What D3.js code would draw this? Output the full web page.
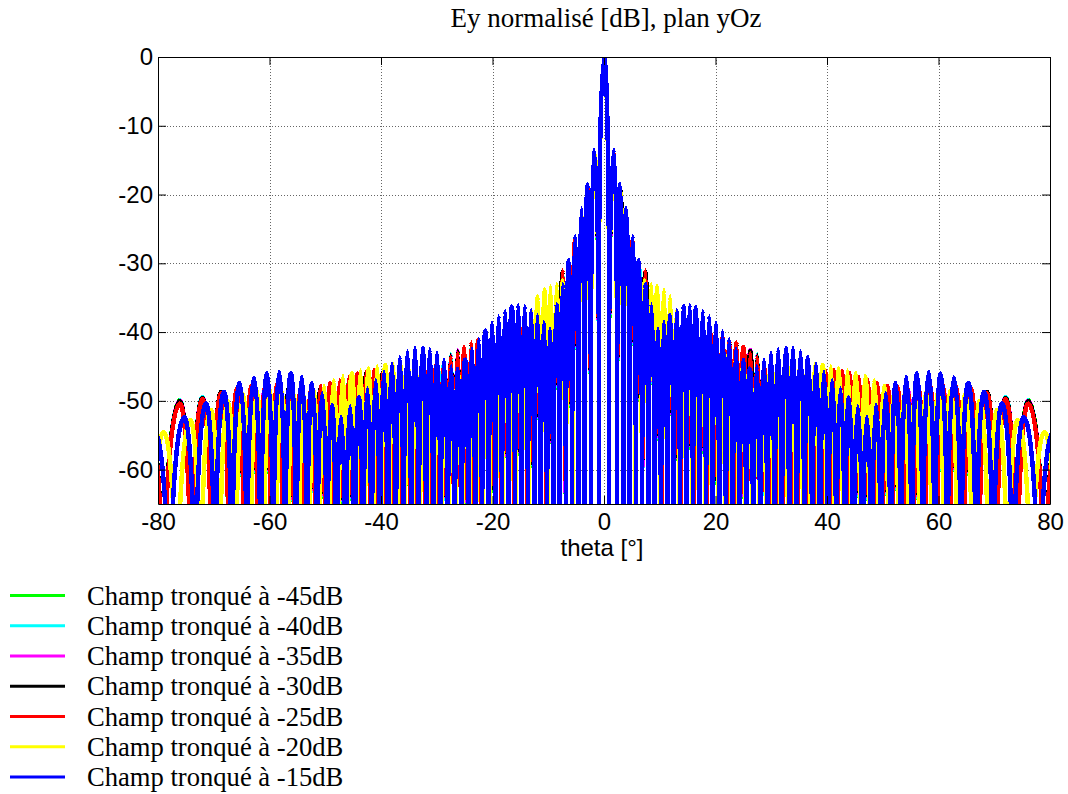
<!DOCTYPE html>
<html lang="fr">
<head>
<meta charset="UTF-8">
<title>Ey normalisé [dB], plan yOz</title>
<script src="https://cdn.jsdelivr.net/npm/d3@7"></script>
<style>
  body { margin: 0; background: #fff; }
</style>
</head>
<body>
<script>
// ---- data (pattern is symmetric in theta, values for theta >= 0) ----
// lobe peak angles [deg]
var thetaBlue = [0, 1.79, 2.91, 4.03, 5.15, 6.27, 7.39, 8.52, 9.66, 10.79, 11.93, 13.07, 14.22, 15.38, 16.54, 17.71,
    18.89, 20.07, 21.27, 22.47, 23.69, 24.91, 26.15, 27.40, 28.67, 29.95, 31.25, 32.56, 33.90, 35.26, 36.63, 38.04,
    39.47, 40.93, 42.43, 43.96, 45.54, 47.16, 48.83, 50.55, 52.34, 54.21, 56.17, 58.23, 60.42, 62.77, 65.32, 68.16,
    71.39, 75.29, 80.60];
var thetaYellow = [0, 1.78, 2.89, 4.01, 5.12, 6.24, 7.36, 8.48, 9.60, 10.73, 11.87, 13.01, 14.15, 15.30, 16.45, 17.62,
    18.79, 19.97, 21.15, 22.35, 23.56, 24.78, 26.01, 27.25, 28.51, 29.78, 31.07, 32.37, 33.70, 35.05, 36.42, 37.81,
    39.23, 40.68, 42.17, 43.68, 45.23, 46.83, 48.48, 50.20, 51.96, 53.81, 55.73, 57.76, 59.91, 62.21, 64.69, 67.42,
    70.54, 74.20, 79.00];
// shared by the -25 ... -45 dB curves
var thetaTrunc = [0, 1.79, 2.92, 4.04, 5.17, 6.29, 7.42, 8.55, 9.69, 10.83, 11.97, 13.12, 14.28, 15.44, 16.60, 17.78,
    18.96, 20.15, 21.35, 22.55, 23.78, 25.01, 26.25, 27.50, 28.78, 30.07, 31.37, 32.69, 34.04, 35.40, 36.78, 38.20,
    39.64, 41.11, 42.62, 44.16, 45.75, 47.38, 49.07, 50.81, 52.61, 54.50, 56.48, 58.57, 60.79, 63.18, 65.77, 68.68,
    72.01, 76.09, 81.99];

// lobe peak levels [dB]
var peakBlue = [0, -13.5, -18.5, -22.0, -26.0, -29.5, -33.0, -36.0, -39.5, -38.5, -37.5, -36.8, -36.2, -36.0, -36.3, -36.9,
    -37.7, -38.6, -39.8, -41.0, -42.4, -44.0, -45.3, -45.0, -44.0, -43.0, -42.5, -42.3, -42.3, -42.8, -43.6, -44.6,
    -45.8, -47.0, -48.2, -49.5, -50.8, -52.3, -50.6, -48.9, -47.4, -46.5, -46.0, -45.8, -46.0, -46.6, -47.4, -48.7,
    -50.4, -52.4, -54.5];
var peakYellow = [0, -14.0, -19.5, -23.0, -27.0, -30.5, -32.5, -33.0, -33.3, -33.8, -34.8, -36.8, -38.5, -39.5, -40.2, -40.8,
    -41.5, -42.0, -42.5, -43.2, -44.0, -45.0, -46.0, -46.5, -46.3, -46.0, -45.5, -45.0, -44.8, -44.6, -44.5, -44.6,
    -44.8, -45.0, -45.3, -45.6, -46.0, -46.4, -47.0, -47.8, -48.5, -49.0, -49.0, -48.5, -48.3, -48.5, -49.0, -50.0,
    -51.3, -52.8, -54.5];
var peakRed = [0, -13.8, -19.0, -22.8, -26.5, -30.0, -31.0, -34.5, -37.5, -38.5, -38.5, -38.5, -38.6, -38.8, -39.0, -39.3,
    -39.6, -40.0, -40.5, -41.2, -41.5, -42.2, -43.0, -43.6, -44.2, -44.8, -45.3, -45.8, -46.0, -46.2, -46.3, -46.0,
    -45.6, -45.5, -45.7, -46.0, -46.5, -47.0, -47.4, -47.8, -48.0, -48.0, -47.8, -47.6, -47.6, -47.8, -48.2, -48.9,
    -49.8, -50.4, -51.5];
var peakBlack = [0, -14.1, -19.3, -23.1, -26.8, -30.3, -31.3, -34.8, -37.8, -38.8, -38.8, -38.8, -38.9, -39.1, -39.3, -39.6,
    -39.9, -40.3, -40.8, -41.5, -41.8, -42.4, -42.75, -43.4, -44.4, -45.1, -45.6, -46.1, -46.3, -46.5, -46.6, -46.3,
    -45.9, -45.8, -46.0, -46.3, -46.8, -47.3, -47.7, -48.1, -48.3, -48.3, -48.1, -47.9, -47.9, -48.1, -48.5, -48.7,
    -49.6, -50.05, -51.2];
var peakMagenta = [0, -14.3, -19.5, -23.3, -27.0, -30.5, -31.5, -35.0, -38.0, -39.0, -39.0, -39.0, -39.1, -39.3, -39.5, -39.8,
    -40.1, -40.5, -41.0, -41.7, -42.0, -42.6, -42.6, -43.35, -44.6, -45.3, -45.8, -46.3, -46.5, -46.7, -46.8, -46.5,
    -46.1, -46.0, -46.2, -46.5, -47.0, -47.5, -47.9, -48.3, -48.5, -48.5, -48.3, -48.1, -48.1, -48.3, -48.7, -48.85,
    -49.55, -50.0, -51.3];
var peakCyan = [0, -14.5, -19.7, -23.5, -27.2, -30.7, -31.7, -35.2, -38.2, -39.2, -39.2, -39.2, -39.3, -39.5, -39.7, -40.0,
    -40.3, -40.7, -41.2, -41.9, -42.2, -42.8, -42.8, -43.2, -44.8, -45.5, -46.0, -46.5, -46.7, -46.9, -47.0, -46.7,
    -46.3, -46.2, -46.4, -46.7, -47.2, -47.7, -48.1, -48.5, -48.7, -48.7, -48.5, -48.3, -48.3, -48.5, -48.9, -48.9,
    -49.45, -49.95, -51.4];
var peakGreen = [0, -14.7, -19.9, -23.7, -27.4, -30.9, -31.9, -35.4, -38.4, -39.4, -39.4, -39.4, -39.5, -39.7, -39.9, -40.2,
    -40.5, -40.9, -41.4, -42.1, -42.4, -43.0, -42.9, -43.3, -45.0, -45.7, -46.2, -46.7, -46.9, -47.1, -47.2, -46.9,
    -46.5, -46.4, -46.6, -46.9, -47.4, -47.9, -48.3, -48.7, -48.9, -48.9, -48.7, -48.5, -48.5, -48.7, -49.1, -48.95,
    -49.5, -49.9, -51.5];

var seriesNames = ["Champ tronqué à -45dB", "Champ tronqué à -40dB", "Champ tronqué à -35dB",
    "Champ tronqué à -30dB", "Champ tronqué à -25dB", "Champ tronqué à -20dB", "Champ tronqué à -15dB"];
var seriesColors = ["#00ff00", "#00ffff", "#ff00ff", "#000000", "#ff0000", "#ffff00", "#0000ff"];
var seriesTheta = [thetaTrunc, thetaTrunc, thetaTrunc, thetaTrunc, thetaTrunc, thetaYellow, thetaBlue];
var seriesPeak = [peakGreen, peakCyan, peakMagenta, peakBlack, peakRed, peakYellow, peakBlue];

var xTicks = [-80, -60, -40, -20, 0, 20, 40, 60, 80];
var yTicks = [0, -10, -20, -30, -40, -50, -60];

// ---- drawing ----
var W = 1068, H = 794;
var axLeft = 158, axRight = 1050, axTop = 57, axBottom = 504;
var lobeDepth = 35;   // dB height of each lobe arch
var floorDb = -95;

var svg = d3.select("body").append("svg").attr("width", W).attr("height", H);

var x = d3.scaleLinear().domain([-80, 80]).range([axLeft, axRight]);
var y = d3.scaleLinear().domain([-65, 0]).range([axBottom, axTop]);

svg.append("clipPath").attr("id", "clip")
    .append("rect").attr("x", axLeft).attr("y", axTop).attr("width", axRight - axLeft).attr("height", axBottom - axTop);

// grid
var grid = svg.append("g").attr("stroke", "#666").attr("stroke-width", 1).attr("stroke-dasharray", "1,2");
grid.selectAll("line.gx").data(xTicks).enter().append("line")
    .attr("x1", function(d) { return Math.round(x(d)) + 0.5; })
    .attr("x2", function(d) { return Math.round(x(d)) + 0.5; })
    .attr("y1", axTop).attr("y2", axBottom);
grid.selectAll("line.gy").data(yTicks).enter().append("line")
    .attr("y1", function(d) { return Math.round(y(d)) + 0.5; })
    .attr("y2", function(d) { return Math.round(y(d)) + 0.5; })
    .attr("x1", axLeft).attr("x2", axRight);

// one arch per lobe, dropping to the nulls halfway between peaks
function lobePath(thetas, peaks) {
    var pts = [];
    for (var i = thetas.length - 1; i > 0; i--) pts.push([-thetas[i], peaks[i]]);
    for (var j = 0; j < thetas.length; j++) pts.push([thetas[j], peaks[j]]);
    var n = pts.length, yf = y(floorDb), p = "";
    for (var k = 0; k < n; k++) {
        var xc = x(pts[k][0]), yc = y(pts[k][1]);
        var xl = k > 0 ? (x(pts[k - 1][0]) + xc) / 2 : xc - (x(pts[k + 1][0]) - xc) / 2;
        var xr = k < n - 1 ? (xc + x(pts[k + 1][0])) / 2 : xc + (xc - x(pts[k - 1][0])) / 2;
        var yb = y(pts[k][1] - lobeDepth);
        if (k === 0) p += "M" + xl + "," + yf;
        p += "L" + xl + "," + yb;
        p += "A" + (xc - xl) + "," + (yb - yc) + " 0 0 1 " + xc + "," + yc;
        p += "A" + (xr - xc) + "," + (yb - yc) + " 0 0 1 " + xr + "," + yb;
        p += "L" + xr + "," + yf;
    }
    return p;
}

var plot = svg.append("g").attr("clip-path", "url(#clip)");
plot.selectAll("path").data(seriesPeak).enter().append("path")
    .attr("d", function(d, i) { return lobePath(seriesTheta[i], d); })
    .attr("fill", "none")
    .attr("stroke", function(d, i) { return seriesColors[i]; })
    .attr("stroke-width", 4.5)
    .attr("shape-rendering", "crispEdges");

// axes (ticks inside, box all round)
var tickFont = "'Liberation Sans', Arial, Helvetica, sans-serif";
var gx = svg.append("g").attr("transform", "translate(0," + axBottom + ")")
    .call(d3.axisBottom(x).tickValues(xTicks).tickSize(-8).tickSizeOuter(0).tickPadding(9).tickFormat(d3.format("d")));
var gy = svg.append("g").attr("transform", "translate(" + axLeft + ",0)")
    .call(d3.axisLeft(y).tickValues(yTicks).tickSize(-8).tickSizeOuter(0).tickPadding(5).tickFormat(d3.format("d")));
svg.append("g").attr("transform", "translate(0," + axTop + ")")
    .call(d3.axisTop(x).tickValues(xTicks).tickSize(-8).tickSizeOuter(0).tickFormat(""));
svg.append("g").attr("transform", "translate(" + axRight + ",0)")
    .call(d3.axisRight(y).tickValues(yTicks).tickSize(-8).tickSizeOuter(0).tickFormat(""));
svg.selectAll(".domain, .tick line").attr("stroke", "#000");
[gx, gy].forEach(function(g) {
    g.selectAll(".tick text").attr("font-family", tickFont).attr("font-size", 24).attr("fill", "#000")
        .text(function(d) { return String(d); });
});

svg.append("text").attr("x", 602).attr("y", 556).attr("text-anchor", "middle")
    .attr("font-family", tickFont).attr("font-size", 24).text("theta [°]");

svg.append("text").attr("x", 606).attr("y", 27).attr("text-anchor", "middle")
    .attr("font-family", "'Liberation Serif', 'Times New Roman', serif").attr("font-size", 27)
    .text("Ey normalisé [dB], plan yOz");

// legend
var legend = svg.append("g").selectAll("g").data(seriesNames).enter().append("g")
    .attr("transform", function(d, i) { return "translate(0," + (595.5 + i * 30.25) + ")"; });
legend.append("line").attr("x1", 10).attr("x2", 65).attr("y1", 0).attr("y2", 0)
    .attr("stroke", function(d, i) { return seriesColors[i]; }).attr("stroke-width", 3);
legend.append("text").attr("x", 87).attr("y", 9)
    .attr("font-family", "'Liberation Serif', 'Times New Roman', serif").attr("font-size", 26.6)
    .text(function(d) { return d; });
</script>
</body>
</html>
